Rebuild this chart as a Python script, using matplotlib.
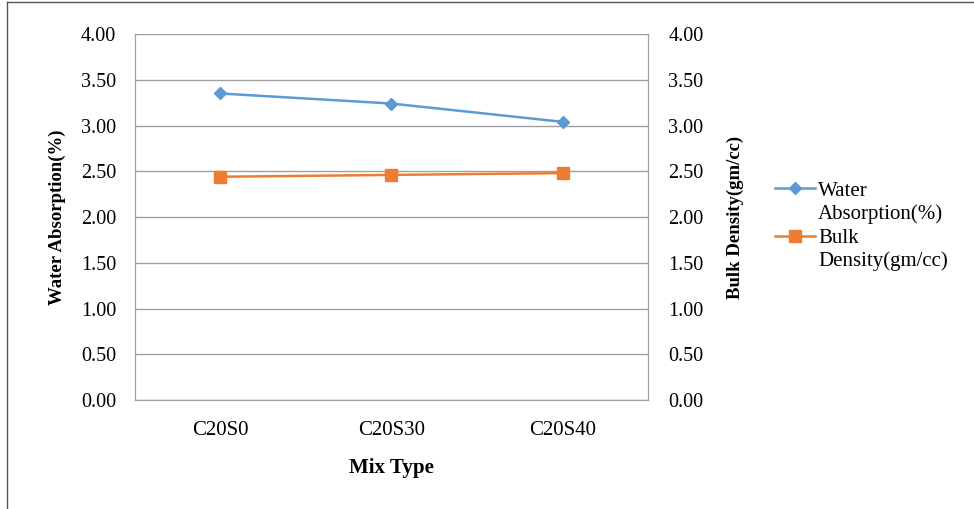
import matplotlib.pyplot as plt
from matplotlib.lines import Line2D

mix_types = ['C20S0', 'C20S30', 'C20S40']
water_absorption = [3.35, 3.24, 3.04]
bulk_density = [2.44, 2.46, 2.48]
y_ticks = [0.0, 0.5, 1.0, 1.5, 2.0, 2.5, 3.0, 3.5, 4.0]

plt.rcParams['font.family'] = ['Liberation Serif', 'DejaVu Serif']

fig = plt.figure(figsize=(9.74, 5.09), dpi=100)
ax = fig.add_axes([0.1386, 0.2141, 0.5267, 0.7191])
ax2 = ax.twinx()

x = list(range(len(mix_types)))
l1, = ax.plot(x, water_absorption, color='#5B9BD5', lw=1.8, marker='D',
              markersize=6, label='Water')
l2, = ax2.plot(x, bulk_density, color='#ED7D31', lw=1.8, marker='s',
               markersize=8, label='Bulk')

for a in (ax, ax2):
    a.set_ylim(0, 4)
    a.set_yticks(y_ticks)
    a.set_yticklabels(['%.2f' % t for t in y_ticks], fontsize=14.5)
    a.tick_params(axis='y', length=0)
    for s in a.spines.values():
        s.set_color('#A0A0A0')
ax.tick_params(axis='y', pad=13.5)
ax2.tick_params(axis='y', pad=14.5)

ax.set_xlim(-0.5, 2.5)
ax.set_xticks(x)
ax.set_xticklabels(mix_types, fontsize=15)
ax.tick_params(axis='x', length=0, pad=15)
ax.grid(axis='y', color='#A0A0A0', lw=1)
ax.set_axisbelow(True)
ax.spines['top'].set_visible(False)
ax2.spines['top'].set_visible(False)

ax.set_xlabel('Mix Type', fontsize=15, fontweight='bold', labelpad=13)
ax.set_ylabel('Water Absorption(%)', fontsize=13.5, fontweight='bold', labelpad=10.5)
ax2.set_ylabel('Bulk Density(gm/cc)', fontsize=13.5, fontweight='bold', labelpad=17)

leg = fig.legend(handles=[l1, l2], loc='upper left', bbox_to_anchor=(0.7957, 0.644),
                 frameon=False, fontsize=15, handlelength=1.92, handletextpad=0.15,
                 labelspacing=1.35, borderpad=0, borderaxespad=0)

# second lines of the legend labels
second_lines = ['Absorption(%)', 'Density(gm/cc)']
fig.canvas.draw()
for t, s in zip(leg.get_texts(), second_lines):
    bb = t.get_window_extent()
    fig.text(bb.x0 / fig.bbox.width, (bb.y0 - 23) / fig.bbox.height, s,
             fontsize=15, ha='left', va='bottom')

# border of the chart area
fig.add_artist(Line2D([0.0072, 0.0072], [0, 0.996], color='#555555', lw=1))
fig.add_artist(Line2D([0.0072, 1], [0.996, 0.996], color='#555555', lw=1))

fig.savefig('out.png', dpi=100)
